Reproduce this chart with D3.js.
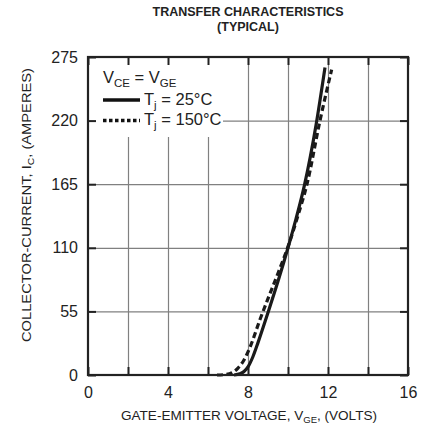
<!DOCTYPE html>
<html>
<head>
<meta charset="utf-8">
<script src="https://cdn.jsdelivr.net/npm/d3@7"></script>
<style>
  body { margin:0; background:#fff; }
  svg { font-family: "Liberation Sans", Arial, sans-serif; }
</style>
</head>
<body>
<script>
// data: gate-emitter volts, collector amps
var xTicks=[0,2,4,6,8,10,12,14,16];
var xLabels=["0","","4","","8","","12","","16"];
var yTicks=[0,55,110,165,220,275];
var vge25=[7.3,7.6,7.8,8.0,8.25,8.5,9.0,9.5,10.0,10.4,10.82,11.4,11.85];
var ic25=[0,1,3,7,16,28,54,81,110,135,164,216,266];
var vge150=[6.45,6.9,7.2,7.5,7.8,8.1,8.6,9.0,9.5,10.0,10.5,10.95,11.6,12.18];
var ic150=[0,0.5,2,6,13,24,48,66,88,111,138,165,220,264];

var svg=d3.select("body").append("svg")
          .attr("width",425)
          .attr("height",431);

var margins={top:57,left:88,right:17,bottom:56};
var width=425-margins.left-margins.right;
var height=431-margins.top-margins.bottom;

var xScale=d3.scaleLinear().domain([0,16]).range([0,width]);
var yScale=d3.scaleLinear().domain([0,275]).range([height,0]);

var plot=svg.append("g")
            .attr("transform","translate("+margins.left+","+margins.top+")");

// grid
plot.append("g")
    .call(d3.axisBottom(xScale).tickValues(xTicks.slice(1,-1)).tickSize(height).tickFormat(""))
    .call(function(g){g.select(".domain").remove();})
    .selectAll("line").attr("stroke","#808080").attr("stroke-width",1.2);
plot.append("g")
    .call(d3.axisLeft(yScale).tickValues(yTicks.slice(1,-1)).tickSize(-width).tickFormat(""))
    .call(function(g){g.select(".domain").remove();})
    .selectAll("line").attr("stroke","#808080").attr("stroke-width",1.2);

// legend background hides grid
plot.append("rect")
    .attr("x",1).attr("y",1)
    .attr("width",134).attr("height",79)
    .attr("fill","#fff");

// inner black ticks
var tickLen=8;
plot.append("g")
    .call(d3.axisLeft(yScale).tickValues(yTicks).tickSize(-tickLen).tickFormat(""))
    .call(function(g){g.select(".domain").remove();})
    .selectAll("line").attr("stroke","#222").attr("stroke-width",2);
plot.append("g")
    .attr("transform","translate("+width+",0)")
    .call(d3.axisRight(yScale).tickValues(yTicks).tickSize(-tickLen).tickFormat(""))
    .call(function(g){g.select(".domain").remove();})
    .selectAll("line").attr("stroke","#222").attr("stroke-width",2);
plot.append("g")
    .call(d3.axisTop(xScale).tickValues(xTicks).tickSize(-tickLen).tickFormat(""))
    .call(function(g){g.select(".domain").remove();})
    .selectAll("line").attr("stroke","#222").attr("stroke-width",2);
plot.append("g")
    .attr("transform","translate(0,"+height+")")
    .call(d3.axisBottom(xScale).tickValues(xTicks).tickSize(-tickLen).tickFormat(""))
    .call(function(g){g.select(".domain").remove();})
    .selectAll("line").attr("stroke","#222").attr("stroke-width",2);

// tick labels
var xAx=plot.append("g")
    .attr("transform","translate(0,"+height+")")
    .call(d3.axisBottom(xScale).tickValues(xTicks).tickSize(0).tickPadding(12)
      .tickFormat(function(d,i){return xLabels[i];}));
xAx.select(".domain").remove();
xAx.selectAll("text").attr("font-size",16).attr("fill","#222")
   .attr("font-family","Liberation Sans, Arial, sans-serif");

var yAx=plot.append("g")
    .call(d3.axisLeft(yScale).tickValues(yTicks).tickSize(0).tickPadding(10));
yAx.select(".domain").remove();
yAx.selectAll("text").attr("font-size",16).attr("fill","#222")
   .attr("font-family","Liberation Sans, Arial, sans-serif");

// curves
var line=d3.line()
           .x(function(d){return xScale(d[0]);})
           .y(function(d){return yScale(d[1]);})
           .curve(d3.curveMonotoneX);

var pts25=vge25.map(function(v,i){return [v,ic25[i]];});
var pts150=vge150.map(function(v,i){return [v,ic150[i]];});

plot.append("path")
    .datum(pts150)
    .attr("d",line)
    .attr("fill","none")
    .attr("stroke","#1a1a1a")
    .attr("stroke-width",3.2)
    .attr("stroke-dasharray","6,3.5");
plot.append("path")
    .datum(pts25)
    .attr("d",line)
    .attr("fill","none")
    .attr("stroke","#1a1a1a")
    .attr("stroke-width",3.2);

// frame
plot.append("rect")
    .attr("width",width).attr("height",height)
    .attr("fill","none")
    .attr("stroke","#222")
    .attr("stroke-width",2.2);

// legend
var legend=plot.append("g").attr("fill","#222");
var l0=legend.append("text").attr("x",15).attr("y",26).attr("font-size",16.5);
l0.append("tspan").text("V");
l0.append("tspan").attr("font-size",11.5).attr("dy",4).text("CE");
l0.append("tspan").attr("dy",-4).text(" = V");
l0.append("tspan").attr("font-size",11.5).attr("dy",4).text("GE");

legend.append("line")
      .attr("x1",15).attr("x2",52).attr("y1",43).attr("y2",43)
      .attr("stroke","#111").attr("stroke-width",3.5);
var l1=legend.append("text").attr("x",56).attr("y",48).attr("font-size",16.5);
l1.append("tspan").text("T");
l1.append("tspan").attr("font-size",11.5).attr("dy",4).text("j");
l1.append("tspan").attr("dy",-4).text(" = 25°C");

legend.append("line")
      .attr("x1",15).attr("x2",52).attr("y1",63.5).attr("y2",63.5)
      .attr("stroke","#111").attr("stroke-width",3.5)
      .attr("stroke-dasharray","3.5,2.5");
var l2=legend.append("text").attr("x",56).attr("y",68).attr("font-size",16.5);
l2.append("tspan").text("T");
l2.append("tspan").attr("font-size",11.5).attr("dy",4).text("j");
l2.append("tspan").attr("dy",-4).text(" = 150°C");

// titles
svg.append("text")
   .attr("x",248).attr("y",16)
   .attr("text-anchor","middle")
   .attr("font-size",12.5).attr("font-weight","bold").attr("fill","#222")
   .text("TRANSFER CHARACTERISTICS");
svg.append("text")
   .attr("x",248).attr("y",31)
   .attr("text-anchor","middle")
   .attr("font-size",12.5).attr("font-weight","bold").attr("fill","#222")
   .text("(TYPICAL)");

var xt=svg.append("text")
   .attr("x",249).attr("y",420)
   .attr("text-anchor","middle")
   .attr("font-size",13.5).attr("fill","#222")
   .attr("textLength",256).attr("lengthAdjust","spacingAndGlyphs");
xt.append("tspan").text("GATE-EMITTER VOLTAGE, V");
xt.append("tspan").attr("font-size",9.5).attr("dy",3).text("GE");
xt.append("tspan").attr("dy",-3).text(", (VOLTS)");

var yt=svg.append("text")
   .attr("transform","translate(31,205) rotate(-90)")
   .attr("text-anchor","middle")
   .attr("font-size",13.5).attr("fill","#222")
   .attr("textLength",274).attr("lengthAdjust","spacingAndGlyphs");
yt.append("tspan").text("COLLECTOR-CURRENT, I");
yt.append("tspan").attr("font-size",9.5).attr("dy",3).text("C");
yt.append("tspan").attr("dy",-3).text(", (AMPERES)");
</script>
</body>
</html>
